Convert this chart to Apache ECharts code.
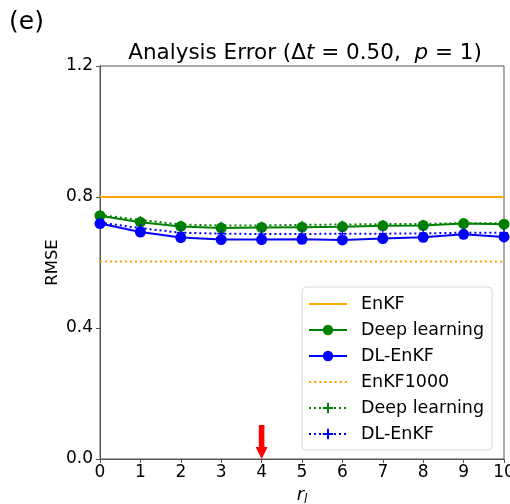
<!DOCTYPE html>
<html>
<head>
<meta charset="utf-8">
<script src="https://cdn.jsdelivr.net/npm/echarts@6/dist/echarts.min.js"></script>
<style>html,body{margin:0;padding:0;background:#fff}#c{width:510px;height:504px}</style>
</head>
<body>
<div id="c"></div>
<script>
var xValues = [0, 1, 2, 3, 4, 5, 6, 7, 8, 9, 10];
var enkf = [0.80, 0.80, 0.80, 0.80, 0.80, 0.80, 0.80, 0.80, 0.80, 0.80, 0.80];
var deepLearning = [0.743, 0.723, 0.710, 0.705, 0.707, 0.708, 0.709, 0.712, 0.713, 0.719, 0.717];
var dlEnkf = [0.719, 0.693, 0.676, 0.670, 0.670, 0.671, 0.669, 0.673, 0.677, 0.686, 0.678];
var enkf1000 = [0.603, 0.603, 0.603, 0.603, 0.603, 0.603, 0.603, 0.603, 0.603, 0.603, 0.603];
var deepLearning1000 = [0.745, 0.730, 0.716, 0.713, 0.713, 0.715, 0.716, 0.717, 0.718, 0.720, 0.720];
var dlEnkf1000 = [0.722, 0.705, 0.691, 0.688, 0.687, 0.687, 0.688, 0.688, 0.689, 0.691, 0.691];
var yTicks = [0.0, 0.4, 0.8, 1.2];
var arrowX = [4];

function pairs(v) { return xValues.map(function (x, i) { return [x, v[i]]; }); }

var plus = 'path://M5,0 L5,10 M0,5 L10,5';
var solidIcon = 'path://M0,0 L38,0 L38,1.8 L0,1.8 Z';
var dotIcon = 'path://';
for (var k = 0; k < 8; k++) { var x0 = k * 5; dotIcon += 'M' + x0 + ',0 L' + (x0 + 2.2) + ',0 L' + (x0 + 2.2) + ',1.8 L' + x0 + ',1.8 Z '; }
var font = 'DejaVu Sans';
var chart = echarts.init(document.getElementById('c'));
chart.setOption({
  animation: false,
  backgroundColor: '#fff',
  title: [
    { text: '(e)', left: 4, top: 5, textStyle: { fontFamily: font, fontSize: 25, fontWeight: 'normal', color: '#000' } },
    {
      text: 'Analysis Error (Δ{i|t} = 0.50,  {i|p} = 1)',
      left: 300, top: 37, textAlign: 'center',
      textStyle: { fontFamily: font, fontSize: 21.5, fontWeight: 'normal', color: '#000',
        rich: { i: { fontFamily: font, fontSize: 21.5, fontStyle: 'italic', color: '#000' } } }
    }
  ],
  grid: { left: 100, right: 6, top: 66, bottom: 45, show: true, borderColor: '#555', borderWidth: 1, containLabel: false, outerBoundsMode: 'none' },
  xAxis: {
    type: 'value', min: 0, max: 10, interval: 1,
    name: '{r|r}{s|l}', nameLocation: 'middle', nameGap: 25, nameMoveOverlap: false,
    nameTextStyle: { rich: {
      r: { fontFamily: font, fontSize: 18, fontStyle: 'italic', color: '#000' },
      s: { fontFamily: font, fontSize: 12, fontStyle: 'italic', color: '#000', padding: [10, 0, 0, 0] } } },
    axisLine: { lineStyle: { color: '#555' } },
    axisTick: { show: true, length: 4, lineStyle: { color: '#555' } },
    axisLabel: { fontFamily: font, fontSize: 17, color: '#000', margin: 5 },
    splitLine: { show: false }
  },
  yAxis: {
    type: 'value', min: yTicks[0], max: yTicks[yTicks.length - 1], interval: 0.4,
    name: 'RMSE', nameLocation: 'middle', nameGap: 39, nameMoveOverlap: false,
    nameTextStyle: { fontFamily: font, fontSize: 16.5, color: '#000' },
    axisLine: { show: true, lineStyle: { color: '#555' } },
    axisTick: { show: true, length: 4, lineStyle: { color: '#555' } },
    axisLabel: { fontFamily: font, fontSize: 17, color: '#000', margin: 7, formatter: function (v) { return v.toFixed(1); } },
    splitLine: { show: false }
  },
  legend: {
    orient: 'vertical', left: 302, top: 287,
    padding: [8, 8, 7, 6], itemGap: 8, itemWidth: 38, itemHeight: 13,
    backgroundColor: '#fff', borderColor: '#d8d8d8', borderWidth: 1, borderRadius: 4,
    textStyle: { fontFamily: font, fontSize: 17.5, color: '#000', padding: [0, 0, 0, 9], lineHeight: 18 },
    data: [
      { name: 'EnKF', icon: solidIcon },
      'Deep learning', 'DL-EnKF',
      { name: 'EnKF1000', icon: dotIcon },
      'Deep learning\u200b', 'DL-EnKF\u200b'
    ]
  },
  series: [
    { name: 'EnKF', type: 'line', data: pairs(enkf), showSymbol: false, symbol: 'none', color: '#FFA500', lineStyle: { width: 1.8, color: '#FFA500' } },
    { name: 'Deep learning', type: 'line', data: pairs(deepLearning), symbol: 'circle', symbolSize: 11, color: '#008000', itemStyle: { color: '#008000' }, lineStyle: { width: 2, color: '#008000' } },
    { name: 'DL-EnKF', type: 'line', data: pairs(dlEnkf), symbol: 'circle', symbolSize: 11, color: '#0000FF', itemStyle: { color: '#0000FF' }, lineStyle: { width: 2, color: '#0000FF' } },
    { name: 'EnKF1000', type: 'line', data: pairs(enkf1000), symbol: 'none', color: '#FFA500', lineStyle: { width: 1.8, color: '#FFA500', type: [2, 3] } },
    { name: 'Deep learning\u200b', type: 'line', data: pairs(deepLearning1000), symbol: plus, symbolSize: 8, color: '#008000', itemStyle: { color: 'none', borderColor: '#008000', borderWidth: 1.2 }, lineStyle: { width: 2, color: '#008000', type: [2, 3] } },
    { name: 'DL-EnKF\u200b', type: 'line', data: pairs(dlEnkf1000), symbol: plus, symbolSize: 8, color: '#0000FF', itemStyle: { color: 'none', borderColor: '#0000FF', borderWidth: 1.2 }, lineStyle: { width: 2, color: '#0000FF', type: [2, 3] } },
    {
      name: 'arrow', type: 'scatter', data: arrowX.map(function (x) { return [x, 0]; }),
      symbol: 'path://M3.2,0 L8.8,0 L8.8,22 L12,22 L6,34 L0,22 L3.2,22 Z', symbolSize: [12, 34], symbolOffset: [0, -17],
      itemStyle: { color: '#FF0000', opacity: 1 }, z: 10, silent: true
    }
  ]
});
</script>
</body>
</html>
